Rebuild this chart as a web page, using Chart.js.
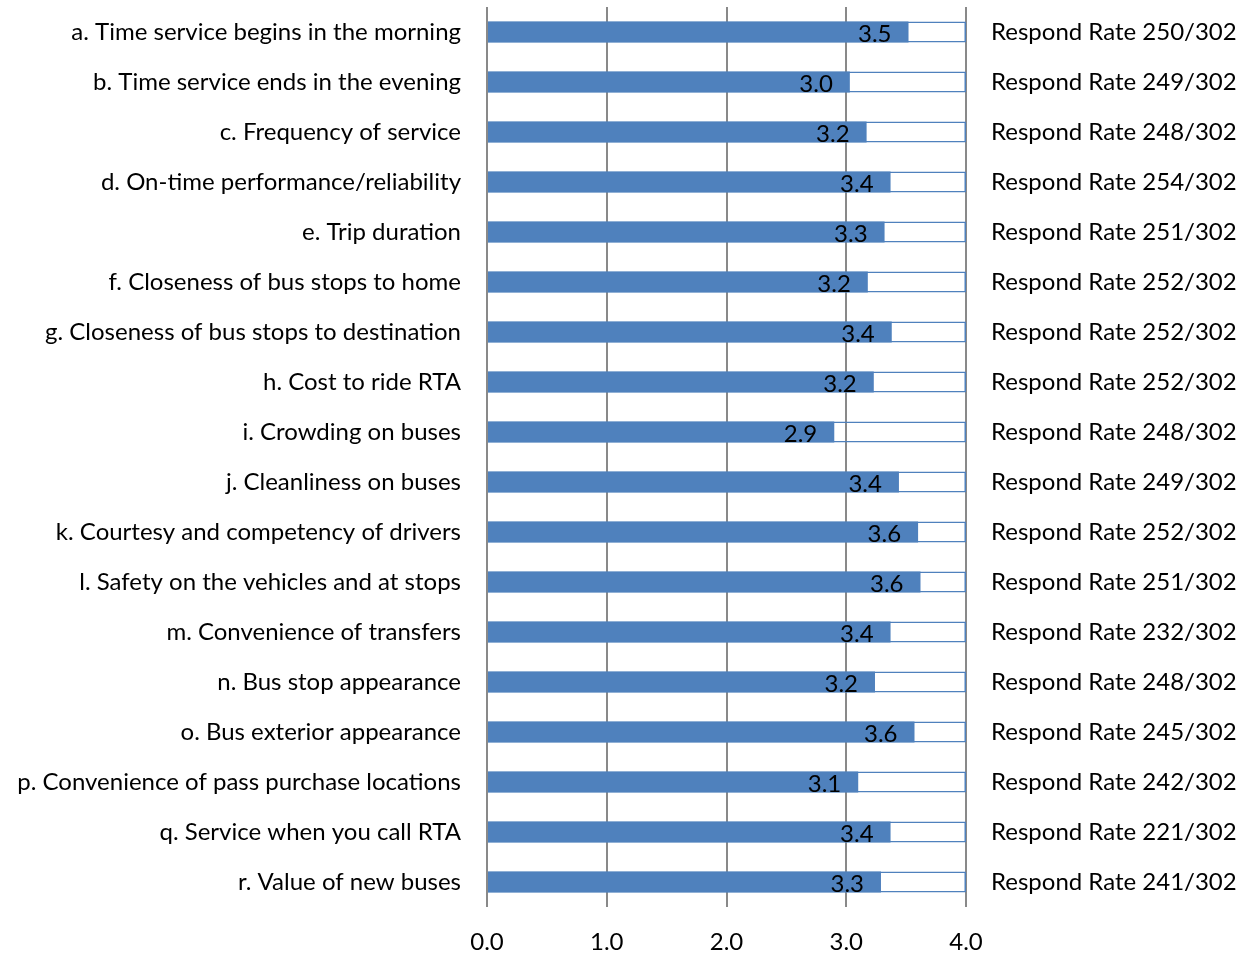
<!DOCTYPE html>
<html>
<head>
<meta charset="utf-8">
<script src="https://cdn.jsdelivr.net/npm/chart.js@4.4.1/dist/chart.umd.min.js"></script>
<style>
  html, body { margin: 0; padding: 0; background: #fff; }
  #wrap { width: 1250px; height: 955px; position: relative; }
</style>
</head>
<body>
<div id="wrap"><canvas id="chart"></canvas></div>
<script>
// survey items (top to bottom)
const items = [
    'a. Time service begins in the morning',
    'b. Time service ends in the evening',
    'c. Frequency of service',
    'd. On-time performance/reliability',
    'e. Trip duration',
    'f. Closeness of bus stops to home',
    'g. Closeness of bus stops to destination',
    'h. Cost to ride RTA',
    'i. Crowding on buses',
    'j. Cleanliness on buses',
    'k. Courtesy and competency of drivers',
    'l. Safety on the vehicles and at stops',
    'm. Convenience of transfers',
    'n. Bus stop appearance',
    'o. Bus exterior appearance',
    'p. Convenience of pass purchase locations',
    'q. Service when you call RTA',
    'r. Value of new buses'
];

// mean scores
const scores = [3.52, 3.03, 3.17, 3.37, 3.32, 3.18, 3.38, 3.23, 2.90, 3.44, 3.60, 3.62, 3.37, 3.24, 3.57, 3.10, 3.37, 3.29];

// responses per item, out of 302
const responses = [250, 249, 248, 254, 251, 252, 252, 252, 248, 249, 252, 251, 232, 248, 245, 242, 221, 241];
const totalResp = 302;

// scale max (outline box drawn to here)
const scaleMax = [4, 4, 4, 4, 4, 4, 4, 4, 4, 4, 4, 4, 4, 4, 4, 4, 4, 4];

const xTicks = ['0.0', '1.0', '2.0', '3.0', '4.0'];

const FONT = 'Lato';
const FSIZE = 24;
const respondLabels = responses.map(r => 'Respond Rate ' + r + '/' + totalResp);

// draw value labels just inside the end of each bar
const valueLabels = {
    id: 'valueLabels',
    afterDatasetsDraw(chart) {
        const ctx = chart.ctx;
        const meta = chart.getDatasetMeta(0);
        ctx.save();
        ctx.font = FSIZE + 'px ' + FONT;
        ctx.fillStyle = '#000';
        ctx.textAlign = 'right';
        ctx.textBaseline = 'middle';
        meta.data.forEach((bar, i) => {
            ctx.fillText(scores[i].toFixed(1), bar.x - 17, bar.y + 2);
        });
        ctx.restore();
    }
};

// vertical axes: fixed width, no extra top/bottom padding
const fixWidth = w => s => {
    s.width = w;
    s.paddingTop = 0;
    s.paddingBottom = 0;
};

new Chart(document.getElementById('chart'), {
    type: 'bar',
    data: {
        labels: items,
        datasets: [{
            data: scores,
            backgroundColor: '#4F81BD',
            borderWidth: 0,
            grouped: false,
            barPercentage: 0.42,
            categoryPercentage: 1
        }, {
            data: scaleMax,
            backgroundColor: 'rgba(255,255,255,0)',
            borderColor: '#4F81BD',
            borderWidth: 1.5,
            grouped: false,
            barPercentage: 0.42,
            categoryPercentage: 1
        }]
    },
    options: {
        indexAxis: 'y',
        responsive: true,
        maintainAspectRatio: false,
        animation: false,
        layout: { padding: { top: 7, bottom: 0, left: 0, right: 0 } },
        plugins: {
            legend: { display: false },
            tooltip: { enabled: false }
        },
        scales: {
            x: {
                min: 0,
                max: 4,
                ticks: {
                    stepSize: 1,
                    padding: 21,
                    color: '#000',
                    font: { family: FONT, size: FSIZE },
                    callback: (v, i) => xTicks[i]
                },
                grid: { color: '#898989', lineWidth: 2, drawTicks: false },
                border: { display: false },
                afterFit: s => { s.height = 48; }
            },
            y: {
                position: 'left',
                ticks: {
                    padding: 26,
                    color: '#000',
                    font: { family: FONT, size: FSIZE }
                },
                grid: { display: false, drawTicks: false },
                border: { display: false },
                afterFit: fixWidth(487)
            },
            y2: {
                type: 'category',
                position: 'right',
                labels: respondLabels,
                ticks: {
                    padding: 25,
                    color: '#000',
                    font: { family: FONT, size: FSIZE }
                },
                grid: { display: false, drawTicks: false },
                border: { display: false },
                afterFit: fixWidth(284)
            }
        }
    },
    plugins: [valueLabels]
});
</script>
</body>
</html>
